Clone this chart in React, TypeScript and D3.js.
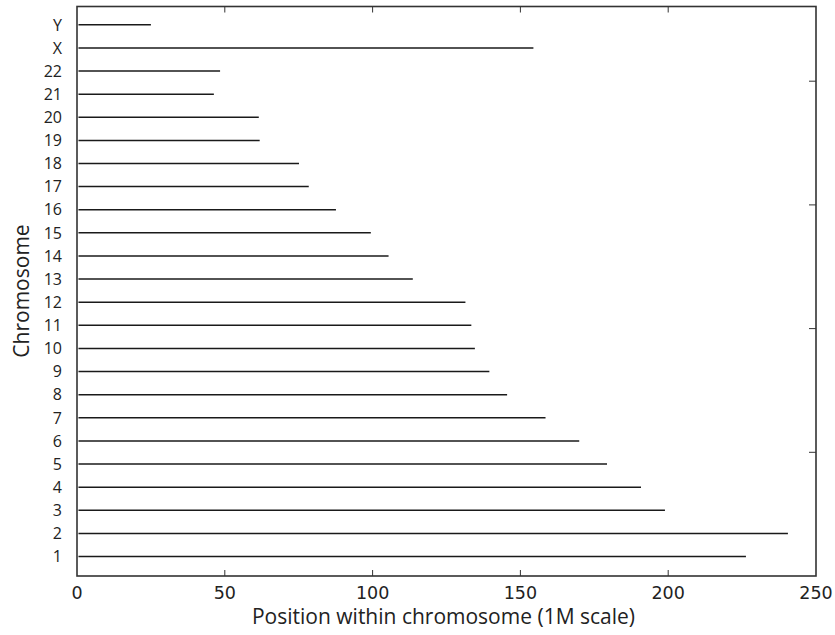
import React from "react";
import * as d3 from "d3";

const chromosomes = ["1","2","3","4","5","6","7","8","9","10","11","12","13","14","15","16","17","18","19","20","21","22","X","Y"];
const lengths = [226.3,240.5,198.9,190.8,179.3,169.9,158.5,145.5,139.5,134.6,133.4,131.4,113.6,105.4,99.4,87.6,78.4,75.1,61.8,61.5,46.3,48.4,154.4,25.0];
const xTicks = [0,50,100,150,200,250];
const rightTicks = [1,2,3,4];

const W = 835, H = 635;
const left = 77, right = 816, top = 6.5, bottom = 576;

export default function App() {
  const x = d3.scaleLinear().domain([0, 250]).range([left, right]);
  const row = d3.scaleLinear().domain([0, 23]).range([556.5, 24.8]);
  const rScale = d3.scaleLinear().domain([0, (bottom - top) / 123.7]).range([bottom, top]);
  const axisColor = "#333";
  return (
    <svg width={W} height={H} style={{ position: "absolute", left: 0, top: 0, background: "#fff" }}>
      <rect x={0} y={0} width={W} height={H} fill="#fff" />
      {chromosomes.map((c, i) => (
        <line key={"l" + c} x1={x(0.5)} x2={x(lengths[i])} y1={row(i)} y2={row(i)} stroke="#1a1a1a" strokeWidth={1.5} />
      ))}
      {chromosomes.map((c, i) => (
        <text key={"t" + c} x={62} y={row(i)} dy="0.36em" textAnchor="end" fontFamily="Open Sans" fontSize={16} fill="#222">{c}</text>
      ))}
      {xTicks.slice(1, -1).map(t => (
        <g key={"xt" + t}>
          <line x1={x(t)} x2={x(t)} y1={bottom} y2={bottom - 6} stroke={axisColor} strokeWidth={1} />
          <line x1={x(t)} x2={x(t)} y1={top} y2={top + 6} stroke={axisColor} strokeWidth={1} />
        </g>
      ))}
      {rightTicks.map(t => (
        <line key={"rt" + t} x1={right} x2={right - 7} y1={rScale(t)} y2={rScale(t)} stroke={axisColor} strokeWidth={1} />
      ))}
      {xTicks.map(t => (
        <text key={"xl" + t} x={x(t)} y={599} textAnchor="middle" fontFamily="DejaVu Sans" fontSize={17.5} fill="#222">{t}</text>
      ))}
      <rect x={left} y={top} width={right - left} height={bottom - top} fill="none" stroke={axisColor} strokeWidth={1.6} />
      <text x={443.5} y={624} textAnchor="middle" fontFamily="Open Sans" fontSize={21} fill="#222">Position within chromosome (1M scale)</text>
      <text transform={`translate(29,291) rotate(-90)`} textAnchor="middle" fontFamily="Open Sans" fontSize={21} fill="#222">Chromosome</text>
    </svg>
  );
}
